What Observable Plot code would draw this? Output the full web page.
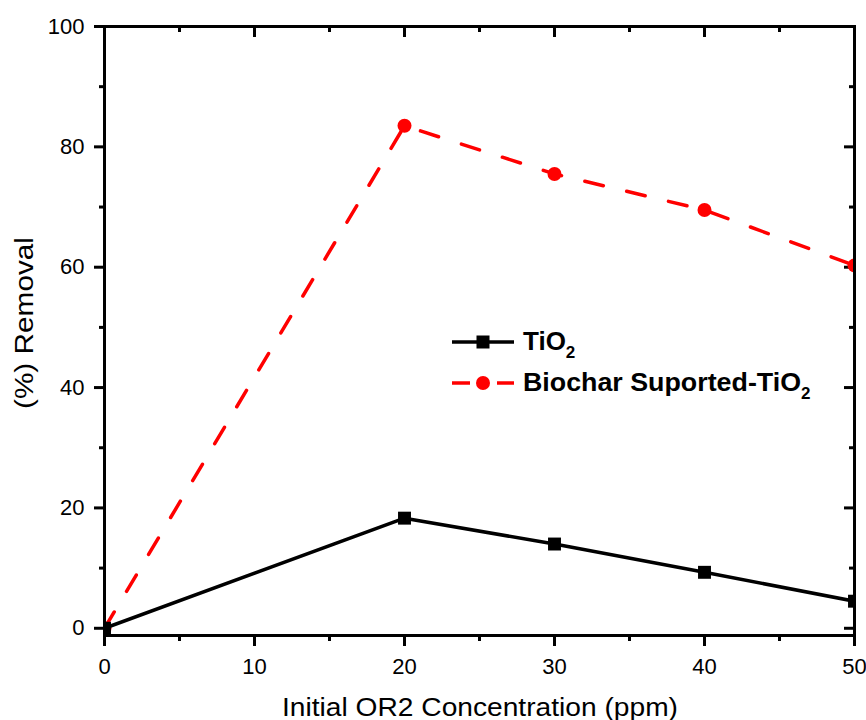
<!DOCTYPE html>
<html>
<head>
<meta charset="utf-8">
<script src="https://cdn.jsdelivr.net/npm/d3@7"></script>
<script src="https://cdn.jsdelivr.net/npm/@observablehq/plot@0.6"></script>
<style>
  html, body { margin: 0; padding: 0; background: #fff; }
  #chart { width: 866px; height: 720px; }
</style>
</head>
<body>
<div id="chart"></div>
<script>
// ---- data ----
const concentration = [0, 20, 30, 40, 50];
const tio2Removal = [0, 18.3, 14.0, 9.3, 4.5];
const biocharRemoval = [0, 83.5, 75.5, 69.5, 60.3];
const seriesNames = ["TiO", "Biochar Suported-TiO"]; // subscript "2" added as tspan
const xMajorTicks = [0, 10, 20, 30, 40, 50];
const xMinorTicks = [5, 15, 25, 35, 45];
const yMajorTicks = [0, 20, 40, 60, 80, 100];
const yMinorTicks = [10, 30, 50, 70, 90];
const xLabel = "Initial OR2 Concentration (ppm)";
const yLabel = "(%) Removal";

const tio2 = concentration.map((c, i) => ({x: c, y: tio2Removal[i]}));
const biochar = concentration.map((c, i) => ({x: c, y: biocharRemoval[i]}));

const W = 866, H = 720, mL = 104, mR = 12, mT = 26, mB = 85;
const plotW = W - mL - mR, plotH = H - mT - mB;
const font = "'Liberation Sans', Arial, Helvetica, sans-serif";

const svg = Plot.plot({
  width: W, height: H,
  marginLeft: mL, marginRight: mR, marginTop: mT, marginBottom: mB,
  style: {fontFamily: font, background: "#fff", color: "#000"},
  x: {domain: [0, 50]},
  y: {domain: [-1.2, 100]},
  marks: [
    // outward ticks (left / bottom)
    Plot.axisY(yMajorTicks, {tickSize: 10, tickPadding: 10, strokeWidth: 3, fontSize: 22, label: null, tickFormat: d => String(d)}),
    Plot.axisY(yMinorTicks, {tickSize: 5, strokeWidth: 3, label: null, tickFormat: () => ""}),
    Plot.axisX(xMajorTicks, {tickSize: 11, tickPadding: 12, strokeWidth: 3, fontSize: 22, label: null, tickFormat: d => String(d)}),
    Plot.axisX(xMinorTicks, {tickSize: 6, strokeWidth: 3, label: null, tickFormat: () => ""}),
    // inward mirrored ticks (top / right)
    Plot.ruleX(xMajorTicks, {x: d => d, insetBottom: plotH - 11, strokeWidth: 3, stroke: "#000"}),
    Plot.ruleX(xMinorTicks, {x: d => d, insetBottom: plotH - 6, strokeWidth: 3, stroke: "#000"}),
    Plot.ruleY(yMajorTicks, {y: d => d, insetLeft: plotW - 10, strokeWidth: 3, stroke: "#000"}),
    Plot.ruleY(yMinorTicks, {y: d => d, insetLeft: plotW - 5, strokeWidth: 3, stroke: "#000"}),
    // series
    Plot.line(biochar, {x: "x", y: "y", stroke: "#ff0000", strokeWidth: 3.5, strokeDasharray: "19,24", clip: true}),
    Plot.dot(biochar, {x: "x", y: "y", r: 7, fill: "#ff0000", stroke: null, symbol: "circle", clip: true}),
    Plot.line(tio2, {x: "x", y: "y", stroke: "#000", strokeWidth: 3.5, clip: true}),
    Plot.dot(tio2, {x: "x", y: "y", r: 7.3, fill: "#000", stroke: null, symbol: "square", clip: true}),
    Plot.frame({stroke: "#000", strokeWidth: 3})
  ]
});

document.getElementById("chart").appendChild(svg);

const s = d3.select(svg);

// axis titles
s.append("text")
  .attr("x", 480).attr("y", 716)
  .attr("text-anchor", "middle")
  .attr("font-family", font).attr("font-size", 25).attr("fill", "#000")
  .attr("textLength", 396).attr("lengthAdjust", "spacingAndGlyphs")
  .text(xLabel);

s.append("text")
  .attr("transform", "translate(33,323) rotate(-90)")
  .attr("text-anchor", "middle")
  .attr("font-family", font).attr("font-size", 25).attr("fill", "#000")
  .attr("textLength", 172).attr("lengthAdjust", "spacingAndGlyphs")
  .text(yLabel);

// legend
const lg = s.append("g")
  .attr("font-family", font).attr("font-weight", "bold").attr("font-size", 26)
  .attr("fill", "#000").attr("text-anchor", "start");
// TiO2 entry
lg.append("line").attr("x1", 452).attr("x2", 514).attr("y1", 342).attr("y2", 342)
  .attr("stroke", "#000").attr("stroke-width", 3.5);
lg.append("rect").attr("x", 483 - 6.5).attr("y", 342 - 6.5).attr("width", 13).attr("height", 13).attr("fill", "#000");
const t1 = lg.append("text").attr("x", 523).attr("y", 350).attr("text-anchor", "start");
t1.append("tspan").text(seriesNames[0]);
t1.append("tspan").attr("font-size", 17).attr("dy", 8).text("2");
// Biochar entry
lg.append("line").attr("x1", 452).attr("x2", 470).attr("y1", 383).attr("y2", 383)
  .attr("stroke", "#ff0000").attr("stroke-width", 3.5);
lg.append("line").attr("x1", 497).attr("x2", 514).attr("y1", 383).attr("y2", 383)
  .attr("stroke", "#ff0000").attr("stroke-width", 3.5);
lg.append("circle").attr("cx", 483).attr("cy", 383).attr("r", 7).attr("fill", "#ff0000");
const t2 = lg.append("text").attr("x", 523).attr("y", 391).attr("text-anchor", "start");
t2.append("tspan").attr("textLength", 278).attr("lengthAdjust", "spacingAndGlyphs").text(seriesNames[1]);
t2.append("tspan").attr("font-size", 17).attr("dy", 8).text("2");
</script>
</body>
</html>
